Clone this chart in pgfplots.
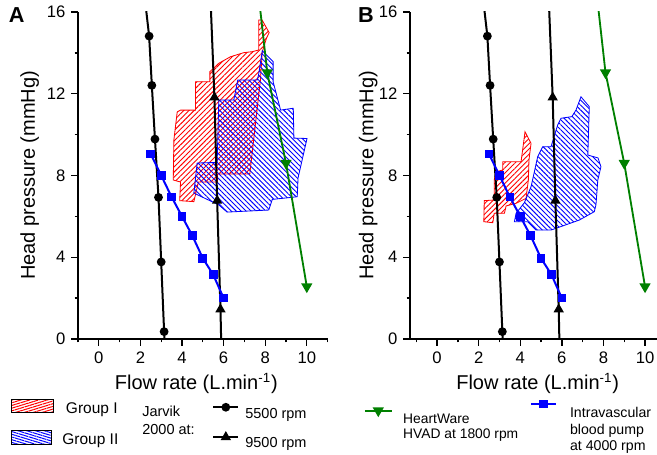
\documentclass[border=0pt]{standalone}
\usepackage{fontspec}
\setmainfont{Liberation Sans}
\usepackage{pgfplots}
\pgfplotsset{compat=1.18}
\usetikzlibrary{patterns.meta}
\definecolor{hvadgreen}{HTML}{008000}
\definecolor{pumpblue}{HTML}{0000FF}
\definecolor{grpred}{HTML}{FF0000}
\definecolor{grpblue}{HTML}{0000FF}

\pgfplotsset{
  panel/.style={
    scale only axis, height=196.2pt, ymin=0, ymax=16,
    axis x line*=bottom, axis y line*=left,
    axis line style={line width=0.8pt},
    tick align=outside, major tick length=4pt, minor tick length=2pt,
    every tick/.style={black, line width=0.8pt},
    xtick={0,2,...,10}, minor xtick={-1,1,...,11},
    ytick={0,4,...,16}, minor ytick={2,6,10,14},
    tick label style={font=\fontsize{10}{12}\selectfont},
    /pgf/number format/assume math mode=true,
    label style={font=\fontsize{12}{14}\selectfont},
    xlabel={Flow rate (L.min\textsuperscript{-1})},
    ylabel={Head pressure (mmHg)},
  },
  j55/.style={black, line width=1.2pt, mark=*, mark size=2pt},
  j95/.style={black, line width=1.2pt, mark=triangle*, mark size=2.4pt},
  hvad/.style={hvadgreen, line width=1.1pt, mark=triangle*, mark size=2.8pt, mark options={rotate=180}},
  pump/.style={pumpblue, line width=1.2pt, mark=square*, mark size=2pt},
  g1/.style={draw=grpred, line width=0.5pt,
    pattern={Lines[angle=45,distance=2.2pt,line width=0.55pt]}, pattern color=grpred},
  g2/.style={draw=grpblue, line width=0.5pt,
    pattern={Lines[angle=-45,distance=2.1pt,line width=0.55pt]}, pattern color=grpblue},
  legendbox/.style={
    at={(0pt,0pt)}, anchor=south west, scale only axis,
    width=394.2pt, height=273pt, hide axis,
    xmin=0, xmax=1, ymin=0, ymax=1,
    legend cell align=left,
    legend style={draw=none, fill=none, inner sep=0pt, anchor=north west,
      nodes={inner sep=0pt, text height=8pt, text depth=2pt}},
  },
}

\begin{document}
\begin{tikzpicture}

% ---- panel A
\begin{axis}[panel, at={(46.8pt,69.6pt)}, anchor=south west,
  width=149.76pt, xmin=-1, xmax=11,
  xlabel style={at={(axis description cs:0.474,-0.137)}, anchor=center},
  ylabel style={at={(axis description cs:-0.1936,0.5)}, anchor=center}]
\addplot[g1] coordinates {
  (7.69,15.61) (7.85,15.61) (8.19,14.99) (8.06,14.71) (7.86,14.06) (7.77,12.67)
  (7.26,8.07) (5.71,8.07) (5.71,7.68) (4.79,7.68) (4.70,7.29) (4.57,6.72)
  (3.89,6.77) (3.93,7.68) (3.58,7.78) (3.61,9.74) (3.77,11.11) (3.93,11.20)
  (4.65,11.20) (4.65,12.59) (5.34,12.59) (5.34,13.08) (5.77,13.49) (6.33,13.81)
  (6.97,14.01) (7.38,14.06) (7.69,14.14)} -- cycle;
\addplot[g2] coordinates {
  (7.86,14.10) (8.38,13.57) (8.38,12.59) (8.74,11.20) (9.35,11.29) (9.38,9.83)
  (10.01,9.81) (9.58,7.88) (9.54,6.96) (8.34,6.83) (8.17,6.31) (6.17,6.21)
  (5.77,6.56) (4.57,7.14) (4.73,8.61) (5.69,8.64) (5.77,11.69) (6.49,11.69)
  (6.68,12.67) (7.62,12.67) (7.68,12.92)} -- cycle;
\addplot[j55, mark indices={1,2,3,4,5,6}] coordinates {
  (2.22,16.6) (2.42,14.82) (2.55,12.41) (2.70,9.78) (2.87,6.93) (3.00,3.77) (3.14,0.36) (3.17,-0.4)};
\addplot[j95, mark indices={1,2,3}] coordinates {
  (5.38,16.4) (5.56,11.82) (5.69,6.77) (5.85,1.45) (5.89,-0.4)};
\addplot[pump] coordinates {
  (2.5,9.05) (3.0,8.0) (3.5,6.95) (4.0,6.0) (4.5,5.05) (5.0,3.95) (5.5,3.15) (6.0,2.0)};
\addplot[hvad, mark indices={1,2,3}] coordinates {
  (7.73,16.4) (8.10,13.03) (9.00,8.60) (10.00,2.56)};
\end{axis}

% ---- panel B
\begin{axis}[panel, at={(246pt,69.6pt)}, anchor=south west,
  width=153.5pt, xmin=-1.3, xmax=11,
  xlabel style={at={(axis description cs:0.499,-0.137)}, anchor=center},
  ylabel style={at={(axis description cs:-0.1637,0.5)}, anchor=center}]
\addplot[g1] coordinates {
  (3.16,8.67) (4.04,8.67) (4.23,10.14) (4.52,9.57) (4.42,8.76) (4.39,7.78)
  (4.28,6.88) (3.80,6.64) (3.32,6.51) (3.24,6.15) (2.75,6.15) (2.68,5.69)
  (2.25,5.74) (2.27,6.77) (2.75,6.80) (2.75,7.78) (2.84,8.18) (3.16,8.27)} -- cycle;
\addplot[g2] coordinates {
  (6.92,11.85) (7.32,11.37) (7.25,9.00) (7.74,8.86) (7.88,8.43) (7.73,7.78)
  (7.64,6.56) (7.56,6.23) (6.84,5.82) (5.48,5.33) (4.76,5.33) (4.36,5.74)
  (3.72,5.74) (3.80,6.15) (4.20,6.67) (4.52,7.45) (4.84,8.92) (5.08,9.41)
  (5.48,9.41) (5.80,10.47) (5.96,10.80) (6.48,10.88) (6.68,11.20)} -- cycle;
\addplot[j55, mark indices={1,2,3,4,5,6}] coordinates {
  (2.22,16.6) (2.42,14.82) (2.55,12.41) (2.70,9.78) (2.87,6.93) (3.00,3.77) (3.14,0.36) (3.17,-0.4)};
\addplot[j95, mark indices={1,2,3}] coordinates {
  (5.38,16.4) (5.56,11.82) (5.69,6.77) (5.85,1.45) (5.89,-0.4)};
\addplot[pump] coordinates {
  (2.5,9.05) (3.0,8.0) (3.5,6.95) (4.0,6.0) (4.5,5.05) (5.0,3.95) (5.5,3.15) (6.0,2.0)};
\addplot[hvad, mark indices={1,2,3}] coordinates {
  (7.73,16.4) (8.10,13.03) (9.00,8.60) (10.00,2.56)};
\end{axis}

% ---- legends
\begin{axis}[legendbox,
  legend style={at={(0.01674,0.1249)}, column sep=7.2pt, font=\fontsize{9.3}{11}\selectfont}]
\addlegendimage{legend image code/.code={
  \path[pattern={Lines[angle=17,distance=1.55pt,line width=0.6pt]}, pattern color=grpred]
    (0pt,-2.5pt) rectangle (25pt,5.5pt);}}
\addlegendentry{Group I}
\end{axis}

\begin{axis}[legendbox,
  legend style={at={(0.01674,0.0552)}, column sep=6pt, font=\fontsize{9.3}{11}\selectfont}]
\addlegendimage{legend image code/.code={
  \path[pattern={Lines[angle=-17,distance=1.55pt,line width=0.6pt]}, pattern color=grpblue]
    (1pt,-2.5pt) rectangle (25pt,5.5pt);}}
\addlegendentry{Group II}
\end{axis}

\begin{axis}[legendbox,
  legend style={at={(0.32268,0.11297)}, row sep=7pt, column sep=3.6pt,
    font=\fontsize{8.7}{10}\selectfont},
  legend image code/.code={\draw[#1, mark repeat=2, mark phase=2]
    plot coordinates {(0pt,3.5pt) (7.5pt,3.5pt) (15pt,3.5pt)};}]
\addlegendimage{j55}
\addlegendentry{5500 rpm}
\addlegendimage{j95}
\addlegendentry{9500 rpm}
\end{axis}

\begin{axis}[legendbox,
  legend style={at={(0.55358,0.1033)}, column sep=6.4pt,
    font=\fontsize{8.3}{9}\selectfont},
  legend image code/.code={\draw[#1, mark repeat=2, mark phase=2]
    plot coordinates {(0pt,5pt) (8pt,5pt) (16pt,5pt)};}]
\addlegendimage{hvad}
\addlegendentry{\begin{tabular}[t]{@{}l@{}}HeartWare\\HVAD at 1800 rpm\end{tabular}}
\end{axis}

\begin{axis}[legendbox,
  legend style={at={(0.80624,0.1198)}, column sep=7.8pt,
    font=\fontsize{8.5}{10}\selectfont},
  legend image code/.code={\draw[#1, mark repeat=2, mark phase=2]
    plot coordinates {(0pt,5.1pt) (7.5pt,5.1pt) (15pt,5.1pt)};}]
\addlegendimage{pump}
\addlegendentry{\begin{tabular}[t]{@{}l@{}}Intravascular\\blood pump\\at 4000 rpm\end{tabular}}
\end{axis}

\node[anchor=base west, inner sep=0pt, font=\fontsize{8.7}{10}\selectfont] at (85.2pt,22.9pt) {Jarvik};
\node[anchor=base west, inner sep=0pt, font=\fontsize{8.7}{10}\selectfont] at (85.2pt,12.5pt) {2000 at:};
\node[font=\fontsize{13}{15}\bfseries\selectfont] at (10pt,263.7pt) {A};
\node[font=\fontsize{13}{15}\bfseries\selectfont] at (219.5pt,263.7pt) {B};

\pgfresetboundingbox
\path[use as bounding box] (0pt,0pt) rectangle (394.2pt,273pt);
\end{tikzpicture}
\end{document}
